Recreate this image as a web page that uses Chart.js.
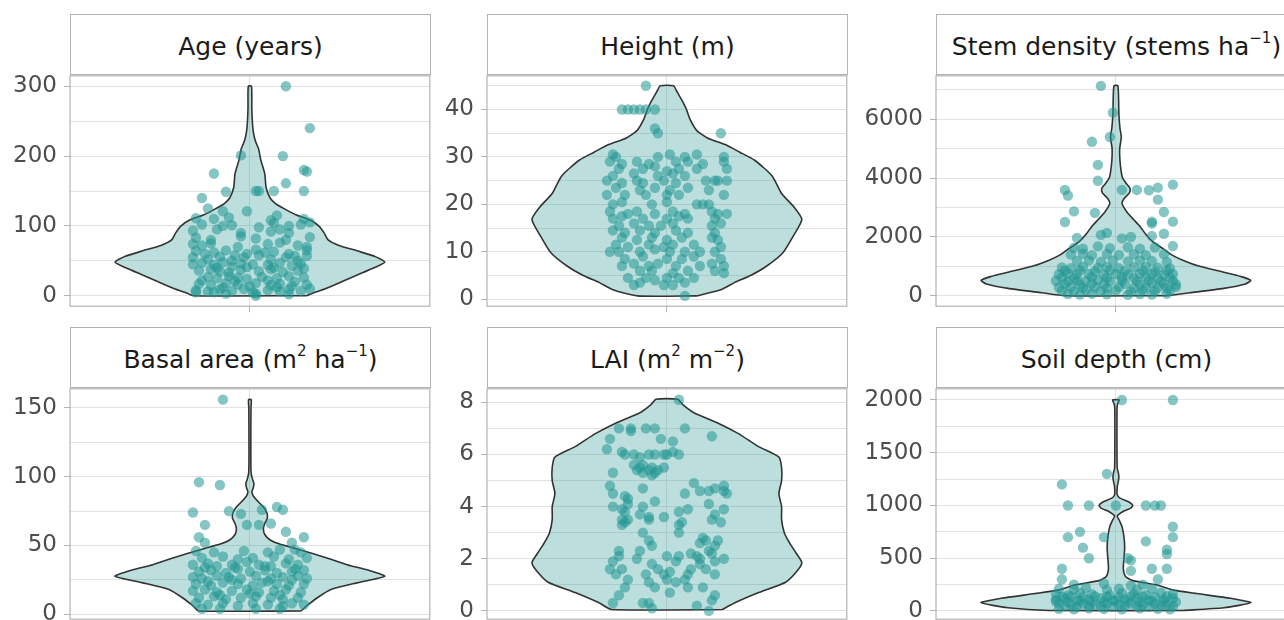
<!DOCTYPE html>
<html>
<head>
<meta charset="utf-8">
<script src="https://cdn.jsdelivr.net/npm/chart.js@4.4.1/dist/chart.umd.min.js"></script>
<style>
html, body { margin:0; padding:0; overflow:hidden; }
body { width:1284px; height:620px; position:relative; background:#fff; font-family:"DejaVu Sans", sans-serif; }
.strip { position:absolute; box-sizing:border-box; width:361px; height:61px; border:1px solid #b3b3b3; background:#fff;
         color:#1a1a1a; font-size:25px; display:flex; align-items:center; justify-content:center; white-space:nowrap; padding-top:3px; }
.strip sup { font-size:0.6em; line-height:0; position:relative; top:-0.15em; vertical-align:super; }
canvas { position:absolute; }
</style>
</head>
<body>
<script>
// ---- data ----
// violin outlines: [value, relative half width]
const ageViolin = [[0,0.42],[4,0.47],[10,0.56],[20,0.68],[30,0.8],[40,0.92],[48,1.0],[56,0.93],[64,0.8],[72,0.66],[80,0.58],[90,0.55],[100,0.51],[108,0.45],[116,0.34],[124,0.26],[132,0.19],[140,0.15],[155,0.12],[175,0.11],[195,0.08],[210,0.065],[222,0.04],[235,0.025],[250,0.018],[270,0.014],[300,0.012]]
const heightViolin = [[0.7,0.22],[2,0.4],[3.5,0.5],[5,0.62],[7,0.74],[9.8,0.86],[13,0.93],[16.8,1.0],[19.5,0.94],[22.3,0.85],[26,0.78],[29.3,0.65],[31,0.54],[32.5,0.44],[34,0.3],[35.6,0.22],[38,0.17],[40,0.145],[42,0.11],[44,0.07],[45,0.05]]
const stemViolin = [[0,0.38],[100,0.55],[250,0.8],[400,0.96],[520,1.0],[650,0.93],[800,0.8],[1000,0.62],[1200,0.5],[1400,0.41],[1600,0.35],[1850,0.27],[2100,0.22],[2350,0.18],[2600,0.13],[2800,0.09],[3000,0.06],[3150,0.045],[3300,0.06],[3500,0.1],[3650,0.105],[3800,0.08],[4000,0.05],[4200,0.04],[4600,0.03],[5000,0.028],[5400,0.04],[5700,0.03],[6200,0.022],[7140,0.015]]
const basalViolin = [[2.4,0.38],[6,0.42],[12,0.5],[18,0.6],[23,0.8],[27.6,1.0],[32,0.88],[36,0.72],[40,0.6],[44,0.47],[48,0.33],[51,0.22],[54,0.15],[58,0.11],[62,0.1],[66,0.11],[70,0.13],[74,0.125],[78,0.1],[82,0.06],[86,0.025],[89,0.015],[92,0.025],[95,0.03],[98,0.02],[102,0.01],[110,0.007],[130,0.007],[150,0.008],[156,0.01]]
const laiViolin = [[0.05,0.41],[0.3,0.5],[0.7,0.68],[1.1,0.88],[1.5,0.96],[1.85,1.0],[2.2,0.96],[2.6,0.91],[3.0,0.87],[3.5,0.85],[4.0,0.85],[4.5,0.83],[5.0,0.85],[5.5,0.85],[5.9,0.83],[6.3,0.68],[6.8,0.53],[7.2,0.38],[7.6,0.2],[7.9,0.12],[8.12,0.08]]
const soilViolin = [[5,0.5],[30,0.8],[79,1.0],[120,0.85],[165,0.6],[200,0.42],[248,0.3],[290,0.12],[330,0.07],[400,0.055],[500,0.06],[600,0.065],[700,0.06],[800,0.045],[860,0.025],[900,0.01],[940,0.05],[975,0.11],[1000,0.125],[1030,0.1],[1070,0.03],[1100,0.01],[1180,0.01],[1230,0.018],[1270,0.022],[1310,0.018],[1350,0.01],[1500,0.008],[1900,0.008],[1960,0.012],[2000,0.025]]

// jittered observations: [x offset, value]
const agePoints = [
 [0.12,300],[0.2,240],[-0.03,201],[0.11,200],[-0.12,175],[0.18,180],[0.19,178],[0.12,161],
 [-0.08,149],[0.02,150],[0.03,150],[0.08,150],[0.18,150],[-0.16,140],[-0.14,125],[-0.01,121],[-0.09,121],
 [-0.18,111],[-0.12,110],[-0.07,112],[0.07,108],[0.09,115],[0.18,110],[0.2,105],
 [-0.16,102],[-0.09,100],[-0.06,101],[0.03,98],[0.08,104],[0.13,100],[0.17,102],
 [-0.19,93],[-0.11,95],[-0.03,90],[0.07,92],[0.1,95],[0.13,90],
 [-0.18,83],[-0.13,80],[-0.03,85],[0.02,82],[0.12,80],[0.2,84],
 [-0.19,74],[-0.16,72],[-0.13,75],[-0.04,70],[0.06,74],[0.1,76],[0.16,72],[0.19,70],
 [-0.18,64],[-0.12,62],[-0.08,65],[-0.01,60],[0.02,66],[0.08,63],[0.13,60],[0.19,65],
 [-0.15,60],[-0.05,58],[0.05,62],[0.15,57],
 [-0.19,55],[-0.14,52],[-0.1,56],[-0.06,50],[-0.02,55],[0.03,58],[0.07,52],[0.12,55],[0.16,50],[0.19,57],
 [-0.19,45],[-0.16,47],[-0.12,44],[-0.09,48],[-0.06,42],[-0.03,46],[0.01,45],[0.06,44],[0.1,47],[0.14,43],[0.17,46],
 [-0.11,40],[-0.01,41],[0.08,40],[0.18,39],
 [-0.17,36],[-0.13,38],[-0.1,35],[-0.07,33],[-0.03,37],[0.03,35],[0.07,38],[0.11,34],[0.16,36],
 [-0.14,27],[-0.11,25],[-0.07,28],[-0.04,26],[-0.01,24],[0.04,27],[0.09,25],[0.13,28],[0.18,26],
 [-0.16,22],[-0.05,21],[0.06,22],[0.15,20],
 [-0.17,17],[-0.13,15],[-0.08,18],[-0.04,16],[0.02,18],[0.07,15],[0.1,17],[0.14,14],[0.19,16],
 [-0.09,12],[0,13],[0.09,12],
 [-0.18,8],[-0.14,6],[-0.1,9],[-0.06,7],[-0.02,10],[0.01,5],[0.06,8],[0.1,6],[0.13,9],[0.17,7],[0.2,10],
 [-0.08,3],[0.02,3],[0.13,2],[0.02,0],[-0.18,5],[-0.12,5]
]
const heightPoints = [
 [-0.07,45],[-0.15,40],[-0.13,40],[-0.11,40],[-0.09,40],[-0.07,40],[-0.04,40],
 [-0.04,36],[-0.03,35],[0.18,35],
 [-0.18,30.5],[-0.17,30],[-0.03,30],[0.01,30.5],[0.06,30],[0.1,30.5],[0.19,30],
 [-0.19,29],[-0.15,28.5],[-0.1,29],[-0.06,28.5],[0.03,29],[0.07,29],[0.12,28.5],[0.19,29],
 [-0.16,27.5],[-0.08,27.5],[-0.04,28],[0,27],[0.04,27.5],[0.1,27.5],[0.2,27.5],
 [-0.18,26],[-0.11,26.5],[-0.03,26],[0.02,26.5],[0.06,26],
 [-0.2,25],[-0.15,24.5],[-0.1,25],[-0.08,24.5],[-0.01,25],[0.03,24.5],[0.13,25],[0.16,25],[0.17,25],[0.2,25],
 [-0.17,23.5],[-0.09,23],[-0.04,23.5],[0.01,23],[0.07,23.5],[0.14,23],
 [-0.2,22],[-0.14,22],[-0.07,22],[0,22],[0.04,22],[0.19,22],
 [-0.18,20],[-0.15,20.5],[-0.05,20],[0,20.5],[0.1,20],[0.12,20],[0.14,20],
 [-0.19,18.5],[-0.13,18],[-0.1,18.5],[-0.04,18],[0.02,18.5],[0.06,18],[0.15,18.5],[0.17,18],[0.2,18],
 [-0.18,17],[-0.15,17.5],[-0.08,17],[0,17],[0.04,17.5],[0.07,17],[0.16,17],
 [-0.16,15.5],[-0.11,16],[-0.06,15.5],[-0.02,15.5],[0.02,16],[0.15,15.5],[0.18,16],
 [-0.18,14.5],[-0.14,14],[-0.09,14.5],[-0.04,14],[0.03,14.5],[0.07,14],[0.16,14],
 [-0.15,13],[-0.1,12.5],[-0.05,13],[0,12.5],[0.05,13],[0.15,13],[0.17,12.5],
 [-0.17,11.5],[-0.13,11],[-0.06,11.5],[-0.01,11],[0.02,11.5],[0.09,11.5],[0.18,11],
 [-0.19,10],[-0.16,10],[-0.09,10],[-0.04,10.5],[0.01,10],[0.06,10],[0.11,10],[0.16,10],
 [-0.14,8.5],[-0.08,9],[0,8.5],[0.05,8.5],[0.09,9],[0.18,8.5],
 [-0.15,7],[-0.11,7.5],[-0.06,7],[-0.03,7.5],[0.03,7],[0.11,7],[0.15,7.5],[0.19,7],
 [-0.09,6],[-0.05,6],[0.02,5.5],[0.07,6],[0.16,6],[0.19,5.5],
 [-0.13,4.5],[-0.07,4.5],[-0.04,4],[0,4.5],[0.04,4.5],[0.09,4.5],
 [-0.11,3],[-0.09,3.5],[-0.01,3],[0.02,3],[0.06,3.5],
 [0.06,0.7]
]
const stemPoints = [
 [-0.05,7140],[-0.01,6230],[-0.02,5400],[-0.08,5240],[-0.06,4450],[-0.06,3910],
 [-0.17,3600],[-0.16,3410],[0.02,3600],[0.07,3600],[0.11,3590],[0.14,3680],[0.19,3780],[0.14,3270],
 [-0.14,2870],[0.16,2850],[-0.07,2820],[-0.17,2510],[0.12,2520],[0.12,2460],[0.19,2520],
 [0.16,2110],[-0.13,1970],[-0.05,2070],[-0.03,2140],[0.05,2000],[0.02,1950],[0.12,2030],[0.19,1690],
 [-0.14,1630],[-0.11,1600],[-0.06,1680],[-0.02,1620],[0.04,1650],[0.08,1600],[0.13,1640],
 [-0.15,1400],[-0.11,1430],[-0.08,1380],[-0.03,1420],[0.01,1390],[0.06,1410],[0.1,1380],[0.16,1420],
 [-0.13,1180],[-0.09,1200],[-0.05,1160],[-0.01,1190],[0.04,1170],[0.08,1200],[0.12,1180],[0.17,1150],
 [-0.18,960],[-0.15,940],[-0.11,980],[-0.06,950],[-0.03,970],[0.01,940],[0.06,960],[0.1,980],[0.14,950],[0.18,930],
 [-0.17,850],[-0.12,860],[-0.07,830],[-0.02,870],[0.03,840],[0.09,860],[0.13,820],[0.17,850],
 [-0.19,730],[-0.16,750],[-0.13,720],[-0.09,740],[-0.04,710],[0,740],[0.04,720],[0.08,750],[0.12,730],[0.16,710],[0.19,740],
 [-0.18,620],[-0.14,600],[-0.08,640],[-0.03,610],[0.02,630],[0.06,600],[0.1,640],[0.14,610],[0.18,620],
 [-0.2,510],[-0.16,490],[-0.13,520],[-0.1,500],[-0.06,530],[-0.02,490],[0.02,510],[0.07,500],[0.11,520],[0.15,490],[0.19,510],
 [-0.17,400],[-0.12,380],[-0.08,420],[-0.04,390],[0.03,410],[0.08,380],[0.12,420],[0.16,400],[0.2,390],
 [-0.19,280],[-0.15,300],[-0.11,270],[-0.07,290],[-0.03,260],[0.01,300],[0.06,270],[0.1,290],[0.14,280],[0.17,260],[0.2,300],
 [-0.18,170],[-0.14,150],[-0.1,190],[-0.05,160],[0,180],[0.05,150],[0.09,190],[0.13,160],[0.18,170],
 [-0.16,60],[-0.12,40],[-0.08,70],[-0.03,50],[0.04,30],[0.08,60],[0.12,40],[0.17,70]
]
const basalPoints = [
 [-0.09,156],[-0.17,96],[-0.1,94],[-0.19,74],[-0.07,75],[-0.03,73],[0.04,76],[0.09,78],[0.11,76],
 [-0.01,65],[0.03,65],[-0.15,65],[0.07,66],[-0.17,56],[-0.15,52],[0.12,60],[0.18,56],[0.14,52],[0.15,47],
 [-0.18,46],[-0.12,45],[-0.02,46],[0.06,45],[0.1,47],[0.17,45],
 [-0.16,41],[-0.09,42],[-0.04,40],[0.01,41],[0.08,42],[0.13,40],[0.19,41],
 [-0.19,36],[-0.14,37],[-0.11,35],[-0.06,36],[-0.01,38],[0.03,36],[0.07,35],[0.12,37],[0.16,36],
 [-0.15,34],[-0.05,34],[0.05,35],[0.15,33],
 [-0.17,31],[-0.13,32],[-0.08,30],[-0.04,33],[0,31],[0.05,32],[0.09,30],[0.14,31],[0.18,32],
 [-0.19,27],[-0.16,26],[-0.11,28],[-0.07,27],[-0.03,26],[0.02,28],[0.07,26],[0.11,27],[0.16,28],[0.19,26],
 [-0.14,24],[-0.06,25],[0.06,24],[0.14,25],
 [-0.18,22],[-0.13,21],[-0.09,23],[-0.04,22],[0.01,21],[0.04,23],[0.09,22],[0.13,21],[0.18,22],
 [-0.19,17],[-0.15,18],[-0.11,16],[-0.06,17],[-0.01,18],[0.03,16],[0.08,17],[0.12,18],[0.17,16],
 [-0.1,14],[0,15],[0.1,14],
 [-0.17,12],[-0.12,13],[-0.08,11],[-0.03,12],[0.02,13],[0.07,12],[0.11,11],[0.16,12],
 [-0.18,8],[-0.14,7],[-0.09,8],[-0.04,6],[0.01,8],[0.06,7],[0.11,6],[0.14,8],[0.18,7],
 [-0.16,4],[-0.1,4],[0.02,4],[0.1,4]
]
const laiPoints = [
 [0.04,8.1],[-0.16,7.0],[-0.12,7.0],[-0.07,7.0],[-0.04,7.0],[0.06,7.0],[0.15,6.7],[-0.12,6.9],
 [-0.19,6.6],[-0.02,6.6],[0.02,6.5],
 [-0.2,6.2],[-0.15,6.1],[-0.14,6.0],[-0.06,6.0],[0,6.0],[0.04,6.0],
 [-0.11,6.0],[-0.09,5.9],[-0.04,6.0],[-0.01,6.0],[0.02,6.1],
 [-0.18,5.3],[-0.11,5.6],[-0.09,5.5],[-0.08,5.6],[-0.05,5.5],[-0.03,5.4],[-0.01,5.5],
 [-0.1,5.4],[-0.08,5.3],[-0.06,5.4],[-0.04,5.3],[-0.05,5.2],
 [-0.19,4.8],[-0.08,4.7],[0.09,4.9],[0.19,4.8],
 [0.06,4.5],[0.11,4.6],[0.14,4.6],[0.16,4.7],[0.19,4.6],[0.2,4.5],
 [-0.18,4.5],[-0.14,4.4],[-0.13,4.3],
 [-0.13,4.1],[-0.04,4.2],[0.14,4.1],
 [-0.18,4.0],[-0.15,3.9],[-0.08,4.0],[0.07,3.9],[0.19,3.9],
 [-0.14,3.8],[-0.09,3.7],[-0.06,3.6],[-0.01,3.6],[0.04,3.8],[0.16,3.7],
 [-0.15,3.5],[-0.14,3.4],[-0.13,3.5],[-0.06,3.5],[0.05,3.4],[0.15,3.5],[0.18,3.4],
 [-0.15,3.3],[0.04,3.3],[-0.08,3.0],[0.04,3.0],
 [-0.06,2.7],[0.12,2.8],[0.13,2.7],[0.17,2.7],[-0.05,2.5],[0.11,2.6],[0.16,2.5],
 [-0.16,2.3],[-0.09,2.3],[0.08,2.2],[0.14,2.3],
 [-0.16,2.1],[-0.1,2.0],[0,2.1],[0.04,2.1],[0.1,2.1],[0.11,2.0],[0.15,2.2],[0.19,2.0],
 [-0.18,1.9],[-0.05,1.8],[0.03,1.9],[0.11,1.8],[0.16,1.9],
 [-0.19,1.6],[-0.15,1.6],[-0.03,1.6],[0.01,1.5],[0.08,1.6],[0.13,1.6],
 [-0.17,1.4],[-0.07,1.4],[-0.01,1.4],[0.07,1.4],[0.16,1.4],
 [-0.13,1.2],[-0.06,1.1],[0,1.2],[0.03,1.1],[0.06,1.2],
 [-0.14,0.9],[-0.04,0.9],[0.07,0.9],[0.12,0.9],
 [-0.16,0.6],[0.01,0.7],[0.16,0.6],
 [-0.18,0.3],[-0.08,0.3],[-0.06,0.3],[0.15,0.4],
 [-0.05,0.1],[0.1,0.2],[0.14,0.0]
]
const soilPoints = [
 [0.02,2000],[0.19,2000],[-0.03,1300],[-0.18,1200],
 [-0.16,1000],[-0.09,1000],[0,1000],[0.1,1000],[0.13,1000],[0.15,1000],
 [-0.16,700],[-0.12,750],[0.19,800],[0.19,700],[-0.11,600],[-0.09,500],[-0.04,700],[0.1,660],
 [0.17,580],[0.17,540],[0.04,500],[0.05,480],[-0.18,400],[0.12,400],[0.17,400],[0.05,380],[-0.18,300],[0.14,300],
 [-0.14,250],[-0.04,260],[0.05,240],[0.09,250],
 [-0.19,210],[-0.14,200],[-0.1,220],[-0.03,200],[0.01,210],[0.07,200],[0.12,210],
 [-0.2,160],[-0.16,150],[-0.12,170],[-0.08,160],[-0.02,150],[0.02,170],[0.06,160],[0.1,150],[0.15,170],[0.19,160],
 [-0.18,135],[-0.15,140],[-0.11,130],[-0.07,140],[-0.03,135],[0.01,130],[0.05,140],[0.09,135],[0.13,130],[0.17,140],
 [-0.2,110],[-0.17,120],[-0.13,100],[-0.09,110],[-0.05,120],[-0.01,100],[0.03,110],[0.07,120],[0.11,100],[0.16,110],[0.19,120],
 [-0.2,90],[-0.16,85],[-0.12,95],[-0.08,90],[-0.04,85],[0,95],[0.04,90],[0.08,85],[0.12,95],[0.16,90],[0.2,85],
 [-0.19,70],[-0.15,60],[-0.11,70],[-0.07,60],[-0.03,70],[0.01,60],[0.05,70],[0.09,60],[0.13,70],[0.17,60],
 [-0.17,45],[-0.13,40],[-0.09,50],[-0.05,45],[-0.01,40],[0.03,50],[0.07,45],[0.11,40],[0.15,50],[0.19,45],
 [-0.19,20],[-0.14,15],[-0.09,25],[-0.04,20],[0.02,15],[0.08,25],[0.14,20],[0.18,15]
]

// axis ranges and ticks per panel
const ageRange = [-15, 315],      ageMajor = [0,100,200,300],          ageMinor = [50,150,250]
const heightRange = [-1.47, 47.1], heightMajor = [0,10,20,30,40],       heightMinor = [5,15,25,35,45]
const stemRange = [-356, 7483],   stemMajor = [0,2000,4000,6000],      stemMinor = [1000,3000,5000,7000]
const basalRange = [-3.6, 163.9], basalMajor = [0,50,100,150],         basalMinor = [25,75,125]
const laiRange = [-0.32, 8.52],   laiMajor = [0,2,4,6,8],              laiMinor = [1,3,5,7]
const soilRange = [-78, 2106],    soilMajor = [0,500,1000,1500,2000],  soilMinor = [250,750,1250,1750]

const panelTitles = ['Age (years)', 'Height (m)', 'Stem density (stems ha<sup>−1</sup>)',
                     'Basal area (m<sup>2</sup> ha<sup>−1</sup>)', 'LAI (m<sup>2</sup> m<sup>−2</sup>)', 'Soil depth (cm)']

const panels = [
  {violin: ageViolin,    points: agePoints,    range: ageRange,    major: ageMajor,    minor: ageMinor},
  {violin: heightViolin, points: heightPoints, range: heightRange, major: heightMajor, minor: heightMinor},
  {violin: stemViolin,   points: stemPoints,   range: stemRange,   major: stemMajor,   minor: stemMinor},
  {violin: basalViolin,  points: basalPoints,  range: basalRange,  major: basalMajor,  minor: basalMinor},
  {violin: laiViolin,    points: laiPoints,    range: laiRange,    major: laiMajor,    minor: laiMinor},
  {violin: soilViolin,   points: soilPoints,   range: soilRange,   major: soilMajor,   minor: soilMinor},
]

// ---- layout ----
const colLeft = [70, 487, 936]
const rowTop = [14, 327]
const plotW = 361, plotH = 232, stripH = 61, axisW = 70
const padTop = 20, padBottom = 8, padRight = 4, xAxisH = 12
const halfMax = 0.45   // widest point of a violin, in x units

const teal = 'rgba(32,150,145,0.55)'
const violinFill = 'rgba(32,150,145,0.3)'
const gridColor = '#e2e2e2'
const frameColor = '#b3b3b3'

// outline of the violin: up the right side, back down the left
function violinShape(profile){
    let right = profile.map(p => ({x: p[1]*halfMax, y: p[0]}))
    let left = profile.slice().reverse().map(p => ({x: -p[1]*halfMax, y: p[0]}))
    return right.concat(left, [right[0]])
}

const panelBorder = {
    id: 'panelBorder',
    afterDatasetsDraw(chart){
        const a = chart.chartArea, ctx = chart.ctx
        ctx.save()
        ctx.strokeStyle = frameColor
        ctx.lineWidth = 1.2
        ctx.strokeRect(a.left, a.top, a.right - a.left, a.bottom - a.top)
        ctx.restore()
    }
}

function draw_panel(i){
    const p = panels[i]
    const col = i % 3, row = Math.floor(i / 3)

    let strip = document.createElement('div')
    strip.className = 'strip'
    strip.style.left = colLeft[col] + 'px'
    strip.style.top = rowTop[row] + 'px'
    strip.innerHTML = '<span>' + panelTitles[i] + '</span>'
    document.body.appendChild(strip)

    let canvas = document.createElement('canvas')
    canvas.width = axisW + plotW + padRight
    canvas.height = padTop + plotH + xAxisH + padBottom
    canvas.style.left = (colLeft[col] - axisW) + 'px'
    canvas.style.top = (rowTop[row] + stripH - padTop) + 'px'
    document.body.appendChild(canvas)

    const allTicks = p.major.concat(p.minor).sort((a, b) => a - b)

    new Chart(canvas.getContext('2d'), {
        type: 'scatter',
        data: {
            datasets: [
                {
                    data: p.points.map(d => ({x: d[0], y: d[1]})),
                    pointRadius: 5.2,
                    pointBackgroundColor: teal,
                    pointBorderWidth: 0,
                    order: 1
                },
                {
                    data: violinShape(p.violin),
                    showLine: true,
                    fill: 'shape',
                    backgroundColor: violinFill,
                    borderColor: '#333333',
                    borderWidth: 1.6,
                    tension: 0.2,
                    pointRadius: 0,
                    order: 2
                }
            ]
        },
        options: {
            responsive: false,
            animation: false,
            events: [],
            layout: {padding: {top: padTop, right: padRight, bottom: padBottom, left: 0}},
            plugins: {legend: {display: false}, tooltip: {enabled: false}},
            scales: {
                x: {
                    type: 'linear', min: -0.6, max: 0.6,
                    afterBuildTicks: axis => { axis.ticks = [{value: 0}] },
                    afterFit: axis => { axis.height = xAxisH },
                    ticks: {display: false},
                    grid: {color: gridColor, tickColor: frameColor, tickLength: 6},
                    border: {display: false}
                },
                y: {
                    min: p.range[0], max: p.range[1],
                    afterBuildTicks: axis => { axis.ticks = allTicks.map(v => ({value: v})) },
                    afterFit: axis => { axis.width = axisW },
                    ticks: {
                        autoSkip: false,
                        padding: 7,
                        color: '#4d4d4d',
                        font: {family: 'DejaVu Sans', size: 23},
                        callback: v => p.major.includes(v) ? String(v) : ''
                    },
                    grid: {
                        color: gridColor,
                        tickLength: 6,
                        tickColor: c => p.major.includes(c.tick.value) ? frameColor : 'rgba(0,0,0,0)'
                    },
                    border: {display: false}
                }
            }
        },
        plugins: [panelBorder]
    })
}

for (let i = 0; i < panels.length; i++) {
    draw_panel(i)
}
</script>
</body>
</html>
